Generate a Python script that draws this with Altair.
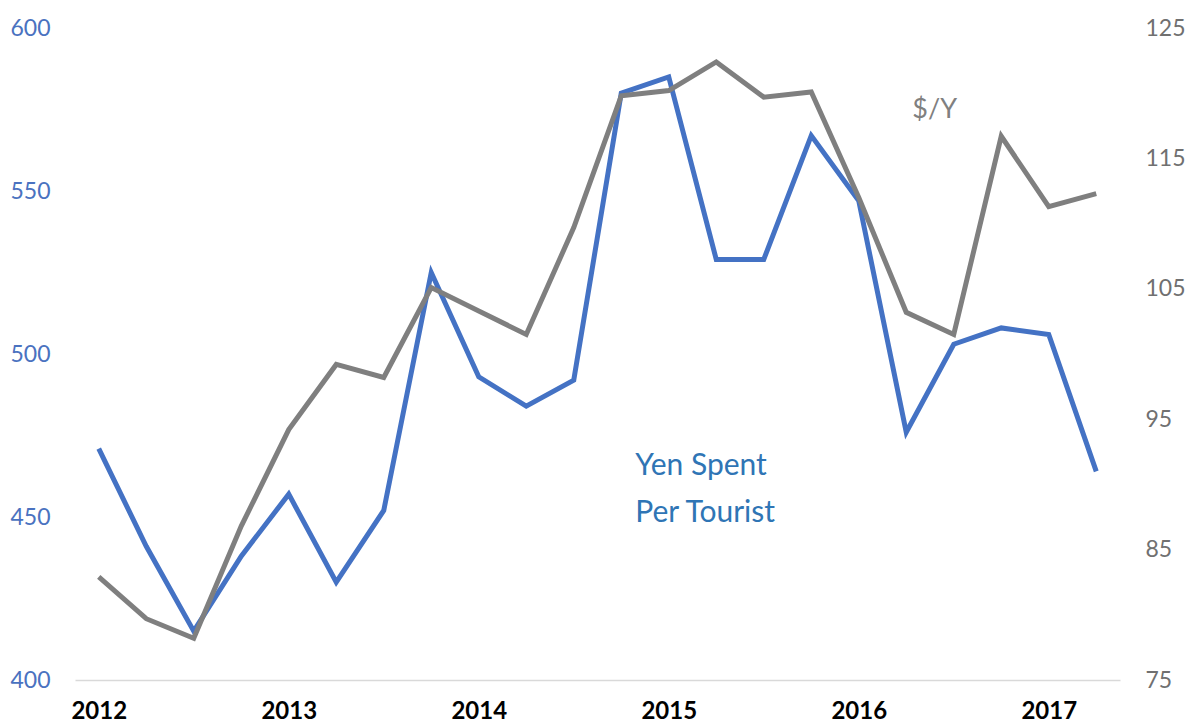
import altair as alt
import pandas as pd

quarters = [
    "2012 Q1", "2012 Q2", "2012 Q3", "2012 Q4",
    "2013 Q1", "2013 Q2", "2013 Q3", "2013 Q4",
    "2014 Q1", "2014 Q2", "2014 Q3", "2014 Q4",
    "2015 Q1", "2015 Q2", "2015 Q3", "2015 Q4",
    "2016 Q1", "2016 Q2", "2016 Q3", "2016 Q4",
    "2017 Q1", "2017 Q2",
]
yen_spent = [471, 441, 415, 438, 457, 430, 452, 525, 493, 484, 492, 580,
             585, 529, 529, 567, 547, 476, 503, 508, 506, 464]
usd_jpy = [82.9, 79.7, 78.2, 86.8, 94.2, 99.2, 98.2, 105.1, 103.3, 101.5, 109.7, 119.8,
           120.2, 122.4, 119.7, 120.1, 112.0, 103.2, 101.5, 116.7, 111.3, 112.3]

left_ticks = [400, 450, 500, 550, 600]
right_ticks = [75, 85, 95, 105, 115, 125]

label_yen = ["Yen Spent", "Per Tourist"]
label_fx = "$/Y"

BLUE = "#4472C4"
GRAY = "#7F7F7F"
FONT = "Lato"

df = pd.DataFrame({"quarter": quarters, "yen": yen_spent, "fx": usd_jpy})

xenc = alt.X(
    "quarter:O",
    sort=quarters,
    title=None,
    axis=alt.Axis(
        labelExpr="indexof(datum.label, 'Q1') >= 0 ? slice(datum.label, 0, 4) : ''",
        labelAngle=0,
        labelFont=FONT,
        labelFontSize=24,
        labelFontWeight="bold",
        labelColor="#000000",
        labelPadding=19,
        ticks=False,
        tickSize=0,
        domainColor="#D9D9D9",
        domainWidth=1.5,
        grid=False,
        labelOverlap=False,
    ),
)

yen_scale = alt.Scale(domain=[400, 600], nice=False, zero=False)
fx_scale = alt.Scale(domain=[75, 125], nice=False, zero=False)

blue_line = alt.Chart(df).mark_line(color=BLUE, strokeWidth=5).encode(
    x=xenc,
    y=alt.Y(
        "yen:Q",
        scale=yen_scale,
        title=None,
        axis=alt.Axis(
            orient="left",
            values=left_ticks,
            labelFont=FONT,
            labelFontSize=23,
            labelColor="#4A72C0",
            labelPadding=25,
            ticks=False,
            tickSize=0,
            domain=False,
            grid=False,
        ),
    ),
)

yen_text_df = pd.DataFrame({"quarter": ["2014 Q4"], "yen": [463], "txt": [label_yen]})
blue_text = alt.Chart(yen_text_df).mark_text(
    align="left", baseline="alphabetic", dx=14, font=FONT, fontSize=30,
    lineHeight=47, color="#2F75B5",
).encode(x=alt.X("quarter:O", sort=quarters), y=alt.Y("yen:Q", scale=yen_scale), text="txt")

gray_line = alt.Chart(df).mark_line(color=GRAY, strokeWidth=5).encode(
    x=xenc,
    y=alt.Y(
        "fx:Q",
        scale=fx_scale,
        title=None,
        axis=alt.Axis(
            orient="right",
            values=right_ticks,
            labelFont=FONT,
            labelFontSize=23,
            labelColor="#707070",
            labelPadding=25,
            ticks=False,
            tickSize=0,
            domain=False,
            grid=False,
        ),
    ),
)

fx_text_df = pd.DataFrame({"quarter": ["2016 Q2"], "fx": [118.1], "txt": [label_fx]})
gray_text = alt.Chart(fx_text_df).mark_text(
    align="left", baseline="alphabetic", dx=6, font=FONT, fontSize=27, color="#808080",
).encode(x=alt.X("quarter:O", sort=quarters), y=alt.Y("fx:Q", scale=fx_scale), text="txt")

chart = alt.layer(
    alt.layer(blue_line, blue_text),
    alt.layer(gray_line, gray_text),
).resolve_scale(y="independent").properties(
    width=1045,
    height=652,
    autosize=alt.AutoSizeParams(type="none"),
    padding={"left": 75, "top": 28, "right": 68, "bottom": 46},
).configure(background="white", view=alt.ViewConfig(stroke=None))

chart.save("out.html", embed_options={"renderer": "svg", "actions": False})
